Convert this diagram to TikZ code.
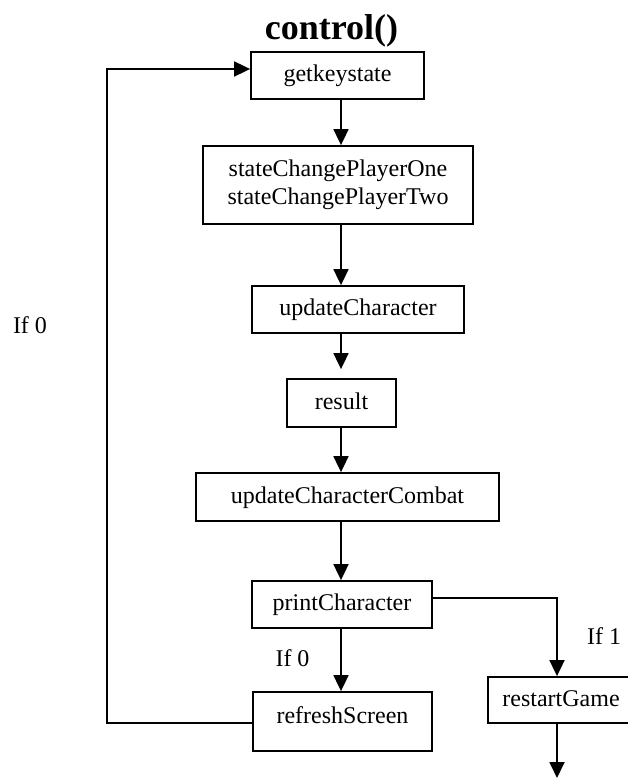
\documentclass[tikz,border=0pt]{standalone}
\usepackage{fontspec}
\setmainfont{Liberation Serif}
\usetikzlibrary{arrows.meta}
\begin{document}
\begin{tikzpicture}[x=1pt,y=-1pt,
  basebox/.style={draw, line width=1.8pt, rectangle, inner sep=0pt,
    font=\fontsize{24}{28}\selectfont},
  box/.style={basebox, text height=17pt, text depth=5pt},
  flow/.style={line width=1.8pt, -{Triangle[length=16pt,width=15pt]}},
  lbl/.style={font=\fontsize{24}{28}\selectfont, anchor=base, inner sep=0pt}]
\useasboundingbox (0,0) rectangle (628,778);
\clip (0,0) rectangle (628,778);

% title
\node[anchor=base, inner sep=0pt, font=\bfseries\fontsize{36}{40}\selectfont]
  (title) at (331.5,40) {control()};

% process boxes
\node[box, minimum width=173pt, minimum height=47pt] (getk) at (337.5,75.5) {getkeystate};
\node[basebox, align=center, minimum width=270pt, minimum height=78pt] (state) at (338,185)
  {stateChangePlayerOne\\stateChangePlayerTwo};
\node[box, minimum width=212pt, minimum height=47pt] (updC) at (358,309.5) {updateCharacter};
\node[box, minimum width=109pt, minimum height=48pt] (result) at (341.5,403) {result};
\node[box, minimum width=303pt, minimum height=48pt] (updCC) at (347.5,497) {updateCharacterCombat};
\node[box, minimum width=180pt, minimum height=47pt] (print) at (342,604.5) {printCharacter};
\node[box, text depth=14pt, minimum width=179pt, minimum height=59pt] (refresh) at (342.5,721.5) {refreshScreen};
\node[box, minimum width=146pt, minimum height=46pt] (restart) at (561,700) {restartGame};

% branch labels
\node[lbl] (if0left) at (30,333) {If 0};
\node[lbl] (if0) at (292.5,666) {If 0};
\node[lbl] (if1) at (604,644) {If 1};

% routing points
\coordinate (spine) at (341,0);
\coordinate (turnR) at (557,598);
\coordinate (exitR) at (557,778);
\coordinate (loopB) at (107,723);
\coordinate (loopT) at (107,69);

% main sequence
\draw[flow] (getk.south -| spine) -- (state.north -| spine);
\draw[flow] (state.south -| spine) -- (updC.north -| spine);
\draw[flow, shorten >=9pt] (updC.south -| spine) -- (result.north -| spine);
\draw[flow] (result.south -| spine) -- (updCC.north -| spine);
\draw[flow] (updCC.south -| spine) -- (print.north -| spine);
\draw[flow] (print.south -| spine) -- (refresh.north -| spine);

% restart branch
\draw[flow] (print.east |- turnR) -- (turnR) -- (restart.north -| turnR);
\draw[flow] (restart.south -| turnR) -- (exitR);

% loop back to the start
\draw[flow] (refresh.west |- loopB) -- (loopB) -- (loopT) -- (getk.west |- loopT);
\end{tikzpicture}
\end{document}
